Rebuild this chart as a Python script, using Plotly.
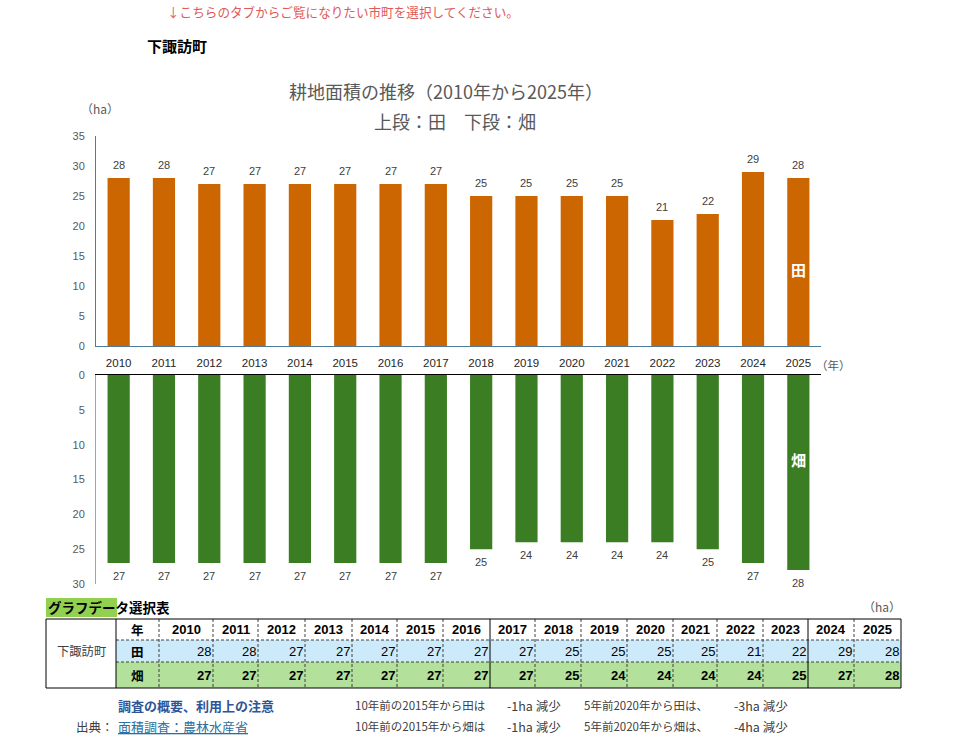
import plotly.graph_objects as go

# ---------------- data ----------------
years = [str(y) for y in range(2010, 2026)]
ta = [28, 28, 27, 27, 27, 27, 27, 27, 25, 25, 25, 25, 21, 22, 29, 28]      # 田 (ha)
hata = [27, 27, 27, 27, 27, 27, 27, 27, 25, 24, 24, 24, 24, 25, 27, 28]    # 畑 (ha)
top_ticks = [0, 5, 10, 15, 20, 25, 30, 35]
bottom_ticks = [0, 5, 10, 15, 20, 25, 30]
town = "下諏訪町"

W, H = 960, 738
def px(x):
    return x / W
def py(y):
    return 1 - y / H

ORANGE = "#cc6600"
GREEN = "#3a7d22"
GRAY = "#595959"
JP = "Noto Sans CJK JP"
NUM = "Liberation Sans"

fig = go.Figure()
fig.add_trace(go.Bar(x=years, y=ta, marker=dict(color=ORANGE, line=dict(width=0)),
                     width=0.49, xaxis="x", yaxis="y", hoverinfo="x+y", name="田"))
fig.add_trace(go.Bar(x=years, y=hata, marker=dict(color=GREEN, line=dict(width=0)),
                     width=0.49, xaxis="x2", yaxis="y2", hoverinfo="x+y", name="畑"))

ann = []
shapes = []

# data labels (x given as category index)
for i, yv in enumerate(years):
    ann.append(dict(x=i, y=ta[i], xref="x", yref="y", yanchor="bottom", yshift=5,
                    text=str(ta[i]), showarrow=False,
                    font=dict(family=NUM, size=11, color="#404040")))
    ann.append(dict(x=i, y=hata[i], xref="x2", yref="y2", yanchor="top", yshift=-5,
                    text=str(hata[i]), showarrow=False,
                    font=dict(family=NUM, size=11, color="#404040")))

# series labels inside bars
last = len(years) - 1
ann.append(dict(x=last, y=12.8, xref="x", yref="y", text="<b>田</b>", showarrow=False,
                font=dict(family=JP, size=15, color="white")))
ann.append(dict(x=last, y=12.2, xref="x2", yref="y2", text="<b>畑</b>", showarrow=False,
                font=dict(family=JP, size=15, color="white")))

def text(x, y, s, size=12, color="black", xanchor="center", family=JP):
    ann.append(dict(x=px(x), y=py(y), xref="paper", yref="paper", text=s, showarrow=False,
                    xanchor=xanchor, yanchor="middle", font=dict(family=family, size=size, color=color)))

# header texts
text(343, 11, "↓こちらのタブからご覧になりたい市町を選択してください。", 12.6, "#e05a5a")
text(177, 45, "<b>" + town + "</b>", 15, "black")
text(446, 91, "耕地面積の推移（2010年から2025年）", 18, GRAY)
text(455, 121, "上段：田　下段：畑", 18, GRAY)
text(100, 108, "（ha）", 12, GRAY)
text(833, 365, "（年）", 11.5, GRAY)

# ---------------- table ----------------
edges = [159, 213, 258, 305, 352, 397, 443, 490, 535, 581, 627, 673, 717, 763, 808, 854, 901]
tL, c1, tR = 46, 116, 901
rT, r1, r2, rB = 619, 640, 662, 688

def rect(x0, y0, x1, y1, fill):
    shapes.append(dict(type="rect", xref="paper", yref="paper", x0=px(x0), x1=px(x1),
                       y0=py(y1), y1=py(y0), fillcolor=fill, layer="below",
                       line=dict(width=0)))

def hline(x0, x1, y, color="black", width=1, dash="solid"):
    shapes.append(dict(type="line", xref="paper", yref="paper", x0=px(x0), x1=px(x1),
                       y0=py(y), y1=py(y), line=dict(color=color, width=width, dash=dash)))

def vline(x, y0, y1, color="black", width=1, dash="solid"):
    shapes.append(dict(type="line", xref="paper", yref="paper", x0=px(x), x1=px(x),
                       y0=py(y0), y1=py(y1), line=dict(color=color, width=width, dash=dash)))

# title of table
rect(46, 598, 117, 617, "#92d050")
text(108.5, 607, "<b>グラフデータ選択表</b>", 13.5, "black")
text(882, 606, "（ha）", 12, GRAY)

rect(c1, r1, tR, r2, "#cdeafa")
rect(c1, r2, tR, rB, "#b3e09b")
DASH = "3px,2px"
hline(c1, tR, r1, "#404040", 1, DASH)
hline(c1, tR, r2, "#404040", 1, DASH)
for e in edges[:-1]:
    if e in (490, 808):
        vline(e, rT, rB, "black", 1)
    else:
        vline(e, rT, rB, "#404040", 1, DASH)
shapes.append(dict(type="rect", xref="paper", yref="paper", x0=px(tL), x1=px(tR),
                   y0=py(rB), y1=py(rT), line=dict(color="black", width=1)))
vline(c1, rT, rB, "black", 1)

text(81, 651, town, 12.3, "#404040")
text(137.5, 629.5, "<b>年</b>", 12.5, "black")
text(137.5, 651, "<b>田</b>", 12.5, "black")
text(137.5, 675, "<b>畑</b>", 12.5, "black")
for i, yv in enumerate(years):
    xc = (edges[i] + edges[i + 1]) / 2
    text(xc, 629.5, "<b>" + yv + "</b>", 13, "black", "center", NUM)
    text(edges[i + 1] - 9, 651, str(ta[i]), 13, "black", "center", NUM)
    text(edges[i + 1] - 9, 675, "<b>" + str(hata[i]) + "</b>", 13, "black", "center", NUM)

# footer notes
i15, i20 = years.index("2015"), years.index("2020")
d_ta10 = ta[i15] - ta[-1]
d_ta5 = ta[i20] - ta[-1]
d_ha10 = hata[i15] - hata[-1]
d_ha5 = hata[i20] - hata[-1]
text(195.5, 705, "<b>調査の概要、利用上の注意</b>", 13, "#2f5597")
text(94.5, 726, "出典：", 12.5, "#404040")
text(183, 726, "<u>面積調査：農林水産省</u>", 13, "#2e6f9e")
text(420, 705, "10年前の2015年から田は", 11.5, "#404040")
text(420, 726, "10年前の2015年から畑は", 11.5, "#404040")
text(534, 705, f"{d_ta10:d}ha 減少", 12.5, "#404040")
text(534, 726, f"{d_ha10:d}ha 減少", 12.5, "#404040")
text(646, 705, "5年前2020年から田は、", 11.5, "#404040")
text(646, 726, "5年前2020年から畑は、", 11.5, "#404040")
text(760.5, 705, f"{d_ta5:d}ha 減少", 12.5, "#404040")
text(760.5, 726, f"{d_ha5:d}ha 減少", 12.5, "#404040")

fig.update_layout(
    width=W, height=H, margin=dict(l=0, r=0, t=0, b=0, pad=0, autoexpand=False),
    paper_bgcolor="white", plot_bgcolor="rgba(0,0,0,0)",
    showlegend=False, bargap=0.51,
    font=dict(family=JP, color=GRAY),
    xaxis=dict(domain=[px(96), px(821)], anchor="y", type="category", range=[-0.5, 15.5],
               showline=True, linecolor="#4f7a99", linewidth=1, ticks="",
               ticklabelstandoff=6, automargin=False,
               tickfont=dict(family=NUM, size=11.5, color="#262626"), showgrid=False),
    yaxis=dict(domain=[py(346), py(136)], anchor="x", range=[0, 35], tickvals=top_ticks,
               showline=True, linecolor="#4f7a99", linewidth=1, ticks="", showgrid=False,
               zeroline=False, ticklabelstandoff=8, automargin=False,
               tickfont=dict(family=NUM, size=11, color=GRAY)),
    xaxis2=dict(domain=[px(96), px(821)], anchor="y2", type="category", side="top",
                range=[-0.5, 15.5],
                showline=True, linecolor="black", linewidth=1, ticks="",
                showticklabels=False, showgrid=False, automargin=False),
    yaxis2=dict(domain=[py(584), py(375)], anchor="x2", range=[30, 0], tickvals=bottom_ticks,
                showline=True, linecolor="#8fa9bf", linewidth=1, ticks="", showgrid=False,
                zeroline=False, ticklabelstandoff=8, automargin=False,
                tickfont=dict(family=NUM, size=11, color=GRAY)),
    annotations=ann, shapes=shapes,
)

fig.write_html("out.html")
